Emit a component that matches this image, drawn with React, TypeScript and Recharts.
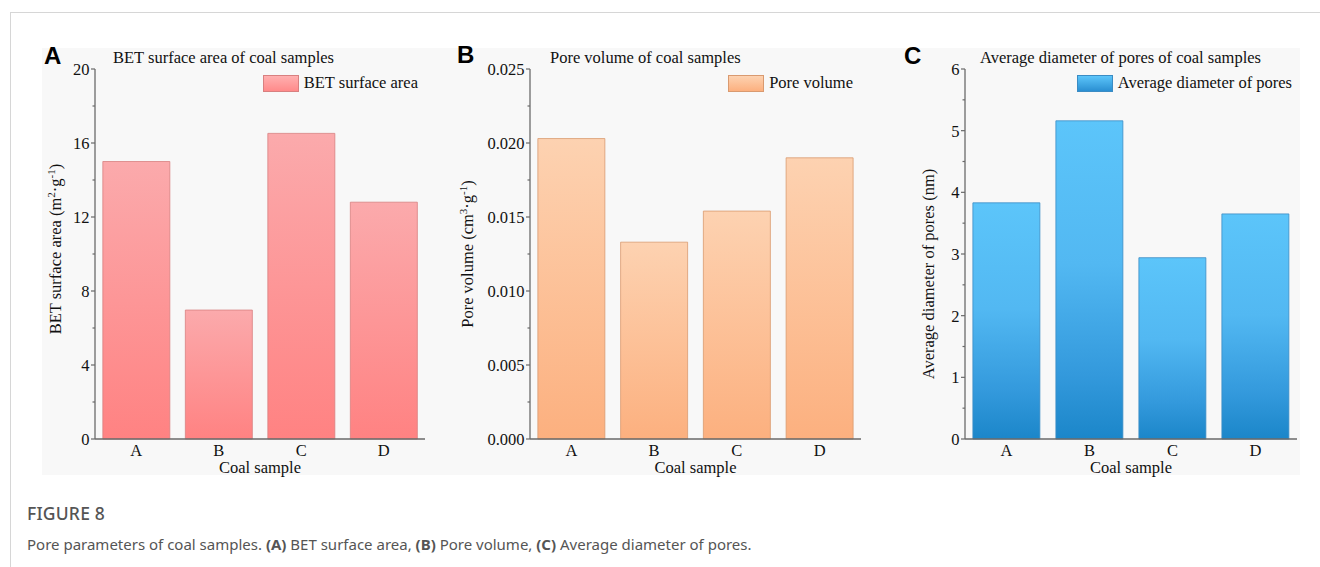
import React from "react";
import { Bar, BarChart, Legend, XAxis, YAxis } from "recharts";

const SAMPLES = ["A", "B", "C", "D"];
const BET_AREA = [15.0, 6.97, 16.52, 12.8];
const PORE_VOLUME = [0.0203, 0.0133, 0.0154, 0.019];
const AVG_DIAMETER = [3.83, 5.16, 2.94, 3.65];

const BET_MAJOR = [0, 4, 8, 12, 16, 20];
const BET_MINOR = [2, 6, 10, 14, 18];
const PV_MAJOR = [0, 0.005, 0.01, 0.015, 0.02, 0.025];
const PV_MINOR = [0.0025, 0.0075, 0.0125, 0.0175, 0.0225];
const AD_MAJOR = [0, 1, 2, 3, 4, 5, 6];
const AD_MINOR = [0.5, 1.5, 2.5, 3.5, 4.5, 5.5];

const SERIF = '"Liberation Serif", "Times New Roman", serif';
const SANS = '"Liberation Sans", Arial, sans-serif';
const CAPTION = '"Noto Sans", "Open Sans", sans-serif';
const AXIS = "#6a6a6a";
const FS = 16.5;

type Part = { t: string; sup?: boolean };

function YTick(props: any) {
  const { x, y, payload, major, fmt } = props;
  const isMajor = major.includes(payload.value);
  const len = isMajor ? 4 : 2.5;
  return (
    <g>
      <line x1={x - len} x2={x} y1={y} y2={y} stroke={AXIS} strokeWidth={1.2} />
      {isMajor && (
        <text x={x - 5.5} y={y} dy="0.36em" textAnchor="end" fill="#111" fontSize={FS} fontFamily={SERIF}>
          {fmt(payload.value)}
        </text>
      )}
    </g>
  );
}

function YTitle({ viewBox, parts, dist, shift }: any) {
  const cx = viewBox.x + viewBox.width - dist;
  const cy = viewBox.y + viewBox.height / 2 + shift;
  let prevSup = false;
  return (
    <text x={cx} y={cy} transform={`rotate(-90 ${cx} ${cy})`} textAnchor="middle" fill="#111" fontSize={FS} fontFamily={SERIF}>
      {parts.map((p: Part, i: number) => {
        const dy = p.sup ? -6 : prevSup ? 6 : 0;
        prevSup = !!p.sup;
        return (
          <tspan key={i} dy={dy} fontSize={p.sup ? 11 : FS}>
            {p.t}
          </tspan>
        );
      })}
    </text>
  );
}

function LegendBox({ label, css, border }: { label: string; css: string; border: string }) {
  return (
    <div style={{ display: "flex", alignItems: "center", fontFamily: SERIF, fontSize: FS, color: "#111", whiteSpace: "nowrap" }}>
      <div style={{ width: 36, height: 17, background: css, border: `1px solid ${border}`, marginRight: 5, boxSizing: "border-box" }} />
      <span>{label}</span>
    </div>
  );
}

type PanelProps = {
  id: string;
  left: number;
  marginLeft: number;
  marginRight: number;
  values: number[];
  major: number[];
  minor: number[];
  fmt: (v: number) => string;
  yParts: Part[];
  yDist: number;
  yShift: number;
  legend: string;
  legendRight: number;
  stops: [number, string][];
  legendCss: string;
  stroke: string;
};

function Panel(p: PanelProps) {
  const data = SAMPLES.map((s, i) => ({ name: s, v: p.values[i] }));
  const ticks = [...p.major, ...p.minor].sort((a, b) => a - b);
  const max = p.major[p.major.length - 1];
  return (
    <div style={{ position: "absolute", left: p.left, top: 0 }}>
      <BarChart
        width={440}
        height={480}
        data={data}
        margin={{ top: 69, right: p.marginRight, bottom: 5, left: p.marginLeft }}
        barCategoryGap="9.5%"
      >
        <defs>
          <linearGradient id={`g-${p.id}`} x1="0" y1="0" x2="0" y2="1">
            {p.stops.map(([o, c], i) => (
              <stop key={i} offset={o} stopColor={c} />
            ))}
          </linearGradient>
        </defs>
        <XAxis
          dataKey="name"
          height={36}
          tickLine={false}
          tickSize={0}
          tickMargin={5}
          tick={{ fill: "#111", fontSize: FS, fontFamily: SERIF }}
          axisLine={{ stroke: AXIS, strokeWidth: 1.3 }}
          label={{ value: "Coal sample", position: "insideBottom", offset: 2, fill: "#111", fontSize: FS, fontFamily: SERIF }}
        />
        <XAxis xAxisId="top" dataKey="name" orientation="top" height={0} tick={false} tickLine={false} axisLine={{ stroke: AXIS, strokeWidth: 1.3 }} />
        <YAxis
          width={60}
          domain={[0, max]}
          ticks={ticks}
          interval={0}
          tickLine={false}
          tickSize={0}
          tickMargin={0}
          tick={(tp: any) => <YTick {...tp} major={p.major} fmt={p.fmt} />}
          axisLine={{ stroke: AXIS, strokeWidth: 1.3 }}
          label={{ content: (lp: any) => <YTitle viewBox={lp.viewBox} parts={p.yParts} dist={p.yDist} shift={p.yShift} /> }}
        />
        <YAxis yAxisId="right" orientation="right" width={0} domain={[0, max]} tick={false} tickLine={false} axisLine={{ stroke: AXIS, strokeWidth: 1.3 }} />
        <Legend
          layout="horizontal"
          verticalAlign="middle"
          align="center"
          wrapperStyle={{ top: 73, right: p.legendRight, width: "auto" }}
          content={() => <LegendBox label={p.legend} css={p.legendCss} border={p.stroke} />}
        />
        <Bar dataKey="v" fill={`url(#g-${p.id})`} stroke={p.stroke} strokeWidth={0.8} isAnimationActive={false} />
      </BarChart>
    </div>
  );
}

const titleStyle = (left: number): React.CSSProperties => ({
  position: "absolute",
  left,
  top: 64 - 15,
  fontFamily: SERIF,
  fontSize: FS,
  lineHeight: "18px",
  color: "#111",
  whiteSpace: "nowrap",
});

const letterStyle = (left: number, top: number): React.CSSProperties => ({
  position: "absolute",
  left,
  top,
  fontFamily: SANS,
  fontWeight: 700,
  fontSize: 24,
  lineHeight: "24px",
  color: "#000",
});

export default function App() {
  return (
    <div style={{ position: "absolute", left: 0, top: 0, width: 1320, height: 567, background: "#fff", overflow: "hidden" }}>
      <div style={{ position: "absolute", left: 10, top: 12, width: 1310, height: 1, background: "#d6d6d6" }} />
      <div style={{ position: "absolute", left: 10, top: 12, width: 1, height: 555, background: "#d6d6d6" }} />
      <div style={{ position: "absolute", left: 42, top: 48, width: 1258, height: 427, background: "#f8f8f8" }} />

      <Panel
        id="a"
        left={0}
        marginLeft={35}
        marginRight={15}
        values={BET_AREA}
        major={BET_MAJOR}
        minor={BET_MINOR}
        fmt={(v) => String(v)}
        yParts={[{ t: "BET surface area (m" }, { t: "2", sup: true }, { t: "·g" }, { t: "-1", sup: true }, { t: ")" }]}
        yDist={34}
        yShift={-5}
        legend="BET surface area"
        legendRight={22}
        stops={[[0, "#fbaaac"], [1, "#ff8282"]]}
        legendCss="linear-gradient(#ffb0b0, #ff8a8a)"
        stroke="#d88080"
      />
      <Panel
        id="b"
        left={440}
        marginLeft={30}
        marginRight={19}
        values={PORE_VOLUME}
        major={PV_MAJOR}
        minor={PV_MINOR}
        fmt={(v) => v.toFixed(3)}
        yParts={[{ t: "Pore volume (cm" }, { t: "3", sup: true }, { t: "·g" }, { t: "-1", sup: true }, { t: ")" }]}
        yDist={57}
        yShift={0}
        legend="Pore volume"
        legendRight={27}
        stops={[[0, "#fdd2b1"], [1, "#fcb07f"]]}
        legendCss="linear-gradient(#fdd2b1, #fcb07f)"
        stroke="#d99a70"
      />
      <Panel
        id="c"
        left={880}
        marginLeft={25}
        marginRight={23}
        values={AVG_DIAMETER}
        major={AD_MAJOR}
        minor={AD_MINOR}
        fmt={(v) => String(v)}
        yParts={[{ t: "Average diameter of pores (nm)" }]}
        yDist={31}
        yShift={20}
        legend="Average diameter of pores"
        legendRight={28}
        stops={[[0, "#5cc5fa"], [0.45, "#52b8f2"], [0.8, "#3399dc"], [1, "#1b86c9"]]}
        legendCss="linear-gradient(#5cc5fa, #2a8fd2)"
        stroke="#3b8cc4"
      />

      <div style={titleStyle(113)}>BET surface area of coal samples</div>
      <div style={titleStyle(550)}>Pore volume of coal samples</div>
      <div style={titleStyle(980)}>Average diameter of pores of coal samples</div>
      <div style={letterStyle(44, 44)}>A</div>
      <div style={letterStyle(457, 43)}>B</div>
      <div style={letterStyle(904, 44)}>C</div>

      <div style={{ position: "absolute", left: 27, top: 501, fontFamily: CAPTION, fontSize: 17.5, fontWeight: 500, color: "#555", letterSpacing: 0.2 }}>
        FIGURE 8
      </div>
      <div style={{ position: "absolute", left: 27, top: 534, fontFamily: CAPTION, fontSize: 15, color: "#555", whiteSpace: "nowrap" }}>
        Pore parameters of coal samples. <b>(A)</b> BET surface area, <b>(B)</b> Pore volume, <b>(C)</b> Average diameter of pores.
      </div>
    </div>
  );
}
